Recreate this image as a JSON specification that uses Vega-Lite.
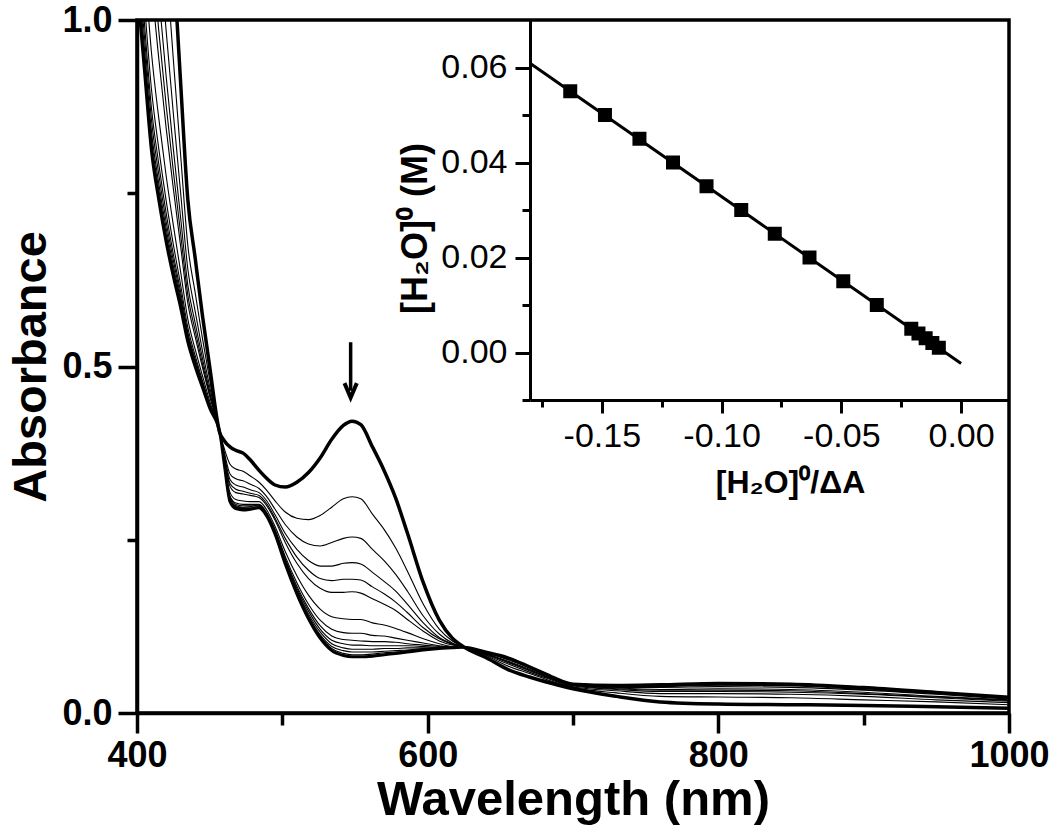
{
  "$schema": "https://vega.github.io/schema/vega-lite/v6.json",
  "width": 872,
  "height": 693,
  "autosize": {"type": "none"},
  "padding": {"left": 137, "top": 20, "right": 41, "bottom": 126},
  "background": "white",
  "config": {
    "view": {"stroke": "black", "strokeWidth": 3.5},
    "font": "Liberation Sans"
  },
  "datasets": {
    "spectra": [
      {"w":400,"a0":2.10,"a1":1.764,"a2":1.586,"a3":1.47,"a4":1.397,"a5":1.339,"a6":1.218,"a7":1.155,"a8":1.124,"a9":1.103,"a10":1.085,"a11":1.071,"a12":1.061,"a13":1.05},
      {"w":405,"a0":1.90,"a1":1.59,"a2":1.425,"a3":1.318,"a4":1.25,"a5":1.197,"a6":1.085,"a7":1.027,"a8":0.998,"a9":0.979,"a10":0.962,"a11":0.949,"a12":0.94,"a13":0.93},
      {"w":410,"a0":1.70,"a1":1.415,"a2":1.264,"a3":1.166,"a4":1.104,"a5":1.055,"a6":0.952,"a7":0.899,"a8":0.872,"a9":0.855,"a10":0.839,"a11":0.828,"a12":0.819,"a13":0.81},
      {"w":415,"a0":1.48,"a1":1.243,"a2":1.117,"a3":1.036,"a4":0.984,"a5":0.944,"a6":0.858,"a7":0.814,"a8":0.792,"a9":0.777,"a10":0.764,"a11":0.755,"a12":0.747,"a13":0.74},
      {"w":420,"a0":1.28,"a1":1.088,"a2":0.986,"a3":0.92,"a4":0.878,"a5":0.845,"a6":0.776,"a7":0.74,"a8":0.722,"a9":0.71,"a10":0.70,"a11":0.692,"a12":0.686,"a13":0.68},
      {"w":425,"a0":1.09,"a1":0.943,"a2":0.865,"a3":0.814,"a4":0.782,"a5":0.757,"a6":0.704,"a7":0.676,"a8":0.662,"a9":0.653,"a10":0.645,"a11":0.639,"a12":0.635,"a13":0.63},
      {"w":430,"a0":0.91,"a1":0.806,"a2":0.751,"a3":0.715,"a4":0.692,"a5":0.674,"a6":0.637,"a7":0.618,"a8":0.608,"a9":0.601,"a10":0.596,"a11":0.592,"a12":0.588,"a13":0.585},
      {"w":435,"a0":0.74,"a1":0.674,"a2":0.64,"a3":0.617,"a4":0.603,"a5":0.591,"a6":0.568,"a7":0.556,"a8":0.549,"a9":0.545,"a10":0.542,"a11":0.539,"a12":0.537,"a13":0.535},
      {"w":440,"a0":0.657,"a1":0.607,"a2":0.58,"a3":0.563,"a4":0.552,"a5":0.543,"a6":0.525,"a7":0.516,"a8":0.511,"a9":0.508,"a10":0.505,"a11":0.503,"a12":0.502,"a13":0.50},
      {"w":445,"a0":0.574,"a1":0.541,"a2":0.523,"a3":0.512,"a4":0.504,"a5":0.499,"a6":0.487,"a7":0.48,"a8":0.477,"a9":0.475,"a10":0.473,"a11":0.472,"a12":0.471,"a13":0.47},
      {"w":450,"a0":0.50,"a1":0.481,"a2":0.471,"a3":0.464,"a4":0.46,"a5":0.457,"a6":0.45,"a7":0.446,"a8":0.444,"a9":0.443,"a10":0.442,"a11":0.441,"a12":0.441,"a13":0.44},
      {"w":457,"a0":0.404,"a1":0.404,"a2":0.404,"a3":0.404,"a4":0.404,"a5":0.404,"a6":0.404,"a7":0.404,"a8":0.404,"a9":0.404,"a10":0.404,"a11":0.404,"a12":0.404,"a13":0.404},
      {"w":460,"a0":0.393,"a1":0.382,"a2":0.377,"a3":0.373,"a4":0.371,"a5":0.369,"a6":0.365,"a7":0.363,"a8":0.362,"a9":0.362,"a10":0.361,"a11":0.361,"a12":0.36,"a13":0.36},
      {"w":464,"a0":0.384,"a1":0.359,"a2":0.345,"a3":0.337,"a4":0.331,"a5":0.327,"a6":0.318,"a7":0.313,"a8":0.311,"a9":0.309,"a10":0.308,"a11":0.307,"a12":0.306,"a13":0.305},
      {"w":468,"a0":0.379,"a1":0.352,"a2":0.338,"a3":0.329,"a4":0.323,"a5":0.318,"a6":0.308,"a7":0.303,"a8":0.301,"a9":0.299,"a10":0.298,"a11":0.297,"a12":0.296,"a13":0.295},
      {"w":473,"a0":0.375,"a1":0.349,"a2":0.335,"a3":0.326,"a4":0.32,"a5":0.316,"a6":0.306,"a7":0.301,"a8":0.299,"a9":0.297,"a10":0.296,"a11":0.295,"a12":0.294,"a13":0.293},
      {"w":478,"a0":0.365,"a1":0.342,"a2":0.33,"a3":0.322,"a4":0.317,"a5":0.314,"a6":0.305,"a7":0.301,"a8":0.299,"a9":0.298,"a10":0.296,"a11":0.295,"a12":0.295,"a13":0.294},
      {"w":484,"a0":0.35,"a1":0.333,"a2":0.324,"a3":0.318,"a4":0.314,"a5":0.311,"a6":0.305,"a7":0.301,"a8":0.30,"a9":0.299,"a10":0.298,"a11":0.297,"a12":0.297,"a13":0.296},
      {"w":489,"a0":0.339,"a1":0.322,"a2":0.313,"a3":0.307,"a4":0.303,"a5":0.30,"a6":0.294,"a7":0.29,"a8":0.289,"a9":0.288,"a10":0.287,"a11":0.286,"a12":0.286,"a13":0.285},
      {"w":495,"a0":0.329,"a1":0.306,"a2":0.294,"a3":0.286,"a4":0.281,"a5":0.278,"a6":0.269,"a7":0.265,"a8":0.263,"a9":0.262,"a10":0.26,"a11":0.259,"a12":0.259,"a13":0.258},
      {"w":502,"a0":0.326,"a1":0.29,"a2":0.272,"a3":0.259,"a4":0.252,"a5":0.246,"a6":0.233,"a7":0.226,"a8":0.223,"a9":0.221,"a10":0.219,"a11":0.217,"a12":0.216,"a13":0.215},
      {"w":510,"a0":0.333,"a1":0.281,"a2":0.254,"a3":0.236,"a4":0.225,"a5":0.216,"a6":0.198,"a7":0.188,"a8":0.183,"a9":0.18,"a10":0.177,"a11":0.175,"a12":0.174,"a13":0.172},
      {"w":518,"a0":0.347,"a1":0.279,"a2":0.244,"a3":0.22,"a4":0.206,"a5":0.194,"a6":0.17,"a7":0.157,"a8":0.151,"a9":0.147,"a10":0.143,"a11":0.14,"a12":0.138,"a13":0.136},
      {"w":526,"a0":0.368,"a1":0.285,"a2":0.241,"a3":0.212,"a4":0.194,"a5":0.18,"a6":0.15,"a7":0.134,"a8":0.126,"a9":0.121,"a10":0.117,"a11":0.113,"a12":0.111,"a13":0.108},
      {"w":534,"a0":0.395,"a1":0.297,"a2":0.246,"a3":0.212,"a4":0.191,"a5":0.174,"a6":0.139,"a7":0.121,"a8":0.111,"a9":0.105,"a10":0.10,"a11":0.096,"a12":0.093,"a13":0.09},
      {"w":542,"a0":0.415,"a1":0.309,"a2":0.252,"a3":0.216,"a4":0.193,"a5":0.174,"a6":0.136,"a7":0.116,"a8":0.106,"a9":0.10,"a10":0.094,"a11":0.09,"a12":0.086,"a13":0.083},
      {"w":548,"a0":0.421,"a1":0.312,"a2":0.254,"a3":0.217,"a4":0.193,"a5":0.175,"a6":0.135,"a7":0.115,"a8":0.105,"a9":0.098,"a10":0.092,"a11":0.088,"a12":0.084,"a13":0.081},
      {"w":554,"a0":0.416,"a1":0.309,"a2":0.252,"a3":0.215,"a4":0.192,"a5":0.173,"a6":0.135,"a7":0.115,"a8":0.104,"a9":0.098,"a10":0.092,"a11":0.088,"a12":0.084,"a13":0.081},
      {"w":562,"a0":0.384,"a1":0.287,"a2":0.236,"a3":0.203,"a4":0.182,"a5":0.165,"a6":0.13,"a7":0.112,"a8":0.103,"a9":0.097,"a10":0.092,"a11":0.088,"a12":0.085,"a13":0.082},
      {"w":570,"a0":0.35,"a1":0.265,"a2":0.22,"a3":0.19,"a4":0.172,"a5":0.157,"a6":0.127,"a7":0.111,"a8":0.103,"a9":0.097,"a10":0.093,"a11":0.089,"a12":0.087,"a13":0.084},
      {"w":578,"a0":0.31,"a1":0.238,"a2":0.20,"a3":0.176,"a4":0.16,"a5":0.148,"a6":0.122,"a7":0.108,"a8":0.102,"a9":0.097,"a10":0.093,"a11":0.09,"a12":0.088,"a13":0.086},
      {"w":586,"a0":0.26,"a1":0.205,"a2":0.176,"a3":0.157,"a4":0.145,"a5":0.135,"a6":0.116,"a7":0.105,"a8":0.10,"a9":0.097,"a10":0.094,"a11":0.091,"a12":0.09,"a13":0.088},
      {"w":597,"a0":0.188,"a1":0.157,"a2":0.14,"a3":0.13,"a4":0.123,"a5":0.118,"a6":0.107,"a7":0.101,"a8":0.098,"a9":0.096,"a10":0.094,"a11":0.093,"a12":0.092,"a13":0.091},
      {"w":608,"a0":0.134,"a1":0.121,"a2":0.114,"a3":0.109,"a4":0.107,"a5":0.104,"a6":0.10,"a7":0.097,"a8":0.096,"a9":0.095,"a10":0.094,"a11":0.094,"a12":0.093,"a13":0.093},
      {"w":617,"a0":0.108,"a1":0.104,"a2":0.101,"a3":0.10,"a4":0.099,"a5":0.098,"a6":0.096,"a7":0.095,"a8":0.095,"a9":0.095,"a10":0.094,"a11":0.094,"a12":0.094,"a13":0.094},
      {"w":625,"a0":0.095,"a1":0.095,"a2":0.095,"a3":0.095,"a4":0.095,"a5":0.095,"a6":0.095,"a7":0.095,"a8":0.095,"a9":0.095,"a10":0.095,"a11":0.095,"a12":0.095,"a13":0.095},
      {"w":640,"a0":0.08,"a1":0.083,"a2":0.084,"a3":0.085,"a4":0.085,"a5":0.086,"a6":0.087,"a7":0.087,"a8":0.087,"a9":0.088,"a10":0.088,"a11":0.088,"a12":0.088,"a13":0.088},
      {"w":655,"a0":0.063,"a1":0.068,"a2":0.071,"a3":0.073,"a4":0.074,"a5":0.075,"a6":0.077,"a7":0.078,"a8":0.079,"a9":0.079,"a10":0.079,"a11":0.08,"a12":0.08,"a13":0.08},
      {"w":670,"a0":0.052,"a1":0.057,"a2":0.059,"a3":0.061,"a4":0.062,"a5":0.063,"a6":0.065,"a7":0.065,"a8":0.066,"a9":0.066,"a10":0.067,"a11":0.067,"a12":0.067,"a13":0.067},
      {"w":685,"a0":0.043,"a1":0.046,"a2":0.048,"a3":0.049,"a4":0.05,"a5":0.05,"a6":0.051,"a7":0.052,"a8":0.052,"a9":0.052,"a10":0.053,"a11":0.053,"a12":0.053,"a13":0.053},
      {"w":700,"a0":0.035,"a1":0.037,"a2":0.038,"a3":0.039,"a4":0.04,"a5":0.04,"a6":0.041,"a7":0.041,"a8":0.042,"a9":0.042,"a10":0.042,"a11":0.042,"a12":0.042,"a13":0.042},
      {"w":730,"a0":0.024,"a1":0.029,"a2":0.032,"a3":0.034,"a4":0.035,"a5":0.036,"a6":0.037,"a7":0.038,"a8":0.039,"a9":0.039,"a10":0.039,"a11":0.04,"a12":0.04,"a13":0.04},
      {"w":760,"a0":0.016,"a1":0.024,"a2":0.028,"a3":0.031,"a4":0.033,"a5":0.034,"a6":0.037,"a7":0.038,"a8":0.039,"a9":0.04,"a10":0.04,"a11":0.04,"a12":0.041,"a13":0.041},
      {"w":800,"a0":0.013,"a1":0.023,"a2":0.028,"a3":0.031,"a4":0.033,"a5":0.035,"a6":0.038,"a7":0.04,"a8":0.041,"a9":0.041,"a10":0.042,"a11":0.042,"a12":0.043,"a13":0.043},
      {"w":850,"a0":0.012,"a1":0.022,"a2":0.027,"a3":0.03,"a4":0.032,"a5":0.034,"a6":0.037,"a7":0.039,"a8":0.04,"a9":0.04,"a10":0.041,"a11":0.041,"a12":0.042,"a13":0.042},
      {"w":900,"a0":0.011,"a1":0.019,"a2":0.024,"a3":0.027,"a4":0.028,"a5":0.03,"a6":0.033,"a7":0.034,"a8":0.035,"a9":0.036,"a10":0.036,"a11":0.036,"a12":0.037,"a13":0.037},
      {"w":950,"a0":0.009,"a1":0.016,"a2":0.019,"a3":0.022,"a4":0.023,"a5":0.024,"a6":0.027,"a7":0.028,"a8":0.029,"a9":0.029,"a10":0.029,"a11":0.03,"a12":0.03,"a13":0.03},
      {"w":1000,"a0":0.007,"a1":0.012,"a2":0.015,"a3":0.017,"a4":0.018,"a5":0.019,"a6":0.02,"a7":0.021,"a8":0.022,"a9":0.022,"a10":0.022,"a11":0.023,"a12":0.023,"a13":0.023}
    ],
    "inset": [
      {"qx":-0.1632,"qy":0.055},{"qx":-0.1487,"qy":0.050},{"qx":-0.1343,"qy":0.045},{"qx":-0.1203,"qy":0.040},
      {"qx":-0.1063,"qy":0.035},{"qx":-0.0918,"qy":0.030},{"qx":-0.0778,"qy":0.025},{"qx":-0.0633,"qy":0.020},
      {"qx":-0.0492,"qy":0.015},{"qx":-0.0352,"qy":0.010},{"qx":-0.0208,"qy":0.005},{"qx":-0.0178,"qy":0.004},
      {"qx":-0.0148,"qy":0.003},{"qx":-0.0120,"qy":0.002},{"qx":-0.0093,"qy":0.001}
    ],
    "fit": [{"qx":-0.18,"qy":0.0609},{"qx":0.0,"qy":-0.0023}]
  },
  "layer": [
    {
      "encoding": {
        "x": {"field": "w", "type": "quantitative",
          "scale": {"domain": [400, 1000], "nice": false, "zero": false},
          "axis": {
            "title": "Wavelength (nm)",
            "values": [400, 500, 600, 700, 800, 900, 1000],
            "labelExpr": "datum.value % 200 === 0 ? format(datum.value, 'd') : ''",
            "grid": false,
            "domainColor": "black", "domainWidth": 3.5,
            "tickColor": "black", "tickWidth": 3.5,
            "tickSize": {"condition": {"test": "datum.value % 200 === 0", "value": 20}, "value": 12},
            "labelFont": "Liberation Sans", "labelFontSize": 36, "labelFontWeight": "bold", "labelColor": "black",
            "labelPadding": 5, "labelFlush": false, "labelOverlap": false,
            "titleFont": "Liberation Sans", "titleFontSize": 49, "titleFontWeight": "bold", "titleColor": "black", "titlePadding": 2
          }
        },
        "y": {"field": "abs", "type": "quantitative",
          "scale": {"domain": [0, 1], "nice": false, "zero": false},
          "axis": {
            "title": "Absorbance",
            "values": [0, 0.25, 0.5, 0.75, 1],
            "labelExpr": "(datum.value === 0 || datum.value === 0.5 || datum.value === 1) ? format(datum.value, '.1f') : ''",
            "grid": false,
            "domainColor": "black", "domainWidth": 3.5,
            "tickColor": "black", "tickWidth": 3.5,
            "tickSize": {"condition": {"test": "datum.value === 0 || datum.value === 0.5 || datum.value === 1", "value": 19}, "value": 10},
            "labelFont": "Liberation Sans", "labelFontSize": 36, "labelFontWeight": "bold", "labelColor": "black",
            "labelPadding": 6, "labelFlush": false, "labelOverlap": false,
            "titleFont": "Liberation Sans", "titleFontSize": 47, "titleFontWeight": "bold", "titleColor": "black", "titlePadding": 6
          }
        }
      },
      "layer": [
        {
          "data": {"name": "spectra"},
          "transform": [
            {"fold": ["a0","a1","a2","a3","a4","a5","a6","a7","a8","a9","a10","a11","a12","a13"], "as": ["curve", "abs"]}
          ],
          "mark": {"type": "line", "interpolate": "monotone", "clip": true, "color": "black"},
          "encoding": {
            "detail": {"field": "curve", "type": "nominal"},
            "strokeWidth": {
              "condition": [
                {"test": "datum.curve === 'a0'", "value": 3.5},
                {"test": "datum.curve === 'a13'", "value": 3}
              ],
              "value": 1.1
            }
          }
        },
        {
          "data": {"values": [{"w": 547, "abs": 0.535, "abs2": 0.465}]},
          "mark": {"type": "rule", "color": "black", "strokeWidth": 3.5},
          "encoding": {"y2": {"field": "abs2"}}
        },
        {
          "data": {"values": [{"w": 547, "abs": 0.455}]},
          "mark": {"type": "point", "shape": "M-0.55,-1.3L0,0L0.55,-1.3", "filled": false, "color": "black", "size": 500, "strokeWidth": 4, "opacity": 1, "strokeJoin": "miter"}
        }
      ]
    },
    {
      "encoding": {
        "x": {"field": "qx", "type": "quantitative",
          "scale": {"domain": [-0.18, 0.02], "range": [393, 872], "nice": false, "zero": false},
          "axis": {
            "orient": "bottom", "offset": -313,
            "title": "[H₂O]⁰/ΔA",
            "titleX": 653,
            "values": [-0.175, -0.15, -0.125, -0.1, -0.075, -0.05, -0.025, 0],
            "labelExpr": "indexof([-0.15, -0.1, -0.05, 0], datum.value) >= 0 ? (datum.value < 0 ? '-' + format(-datum.value, '.2f') : '0.00') : ''",
            "grid": false,
            "domainColor": "black", "domainWidth": 3,
            "tickColor": "black", "tickWidth": 3,
            "tickSize": {"condition": {"test": "indexof([-0.15, -0.1, -0.05, 0], datum.value) >= 0", "value": 13}, "value": 7},
            "labelFont": "Liberation Sans", "labelFontSize": 34, "labelFontWeight": "normal", "labelColor": "black",
            "labelPadding": 6, "labelFlush": false, "labelOverlap": false,
            "titleFont": "Liberation Sans", "titleFontSize": 32, "titleFontWeight": "bold", "titleColor": "black", "titlePadding": 14
          }
        },
        "y": {"field": "qy", "type": "quantitative",
          "scale": {"domain": [-0.01, 0.07], "range": [380, 0], "nice": false, "zero": false},
          "axis": {
            "orient": "left", "offset": -393,
            "title": "[H₂O]⁰ (M)",
            "titleY": 208,
            "values": [-0.01, 0, 0.01, 0.02, 0.03, 0.04, 0.05, 0.06],
            "labelExpr": "indexof([0, 0.02, 0.04, 0.06], datum.value) >= 0 ? format(datum.value, '.2f') : ''",
            "grid": false,
            "domainColor": "black", "domainWidth": 3,
            "tickColor": "black", "tickWidth": 3,
            "tickSize": {"condition": {"test": "indexof([0, 0.02, 0.04, 0.06], datum.value) >= 0", "value": 15}, "value": 8},
            "labelFont": "Liberation Sans", "labelFontSize": 34, "labelFontWeight": "normal", "labelColor": "black",
            "labelPadding": 8, "labelFlush": false, "labelOverlap": false,
            "titleFont": "Liberation Sans", "titleFontSize": 36, "titleFontWeight": "bold", "titleColor": "black", "titlePadding": 6
          }
        }
      },
      "layer": [
        {
          "data": {"name": "fit"},
          "mark": {"type": "line", "color": "black", "strokeWidth": 3}
        },
        {
          "data": {"name": "inset"},
          "mark": {"type": "point", "shape": "square", "filled": true, "color": "black", "size": 196, "opacity": 1}
        }
      ]
    }
  ],
  "resolve": {
    "scale": {"x": "independent", "y": "independent"},
    "axis": {"x": "independent", "y": "independent"}
  }
}
